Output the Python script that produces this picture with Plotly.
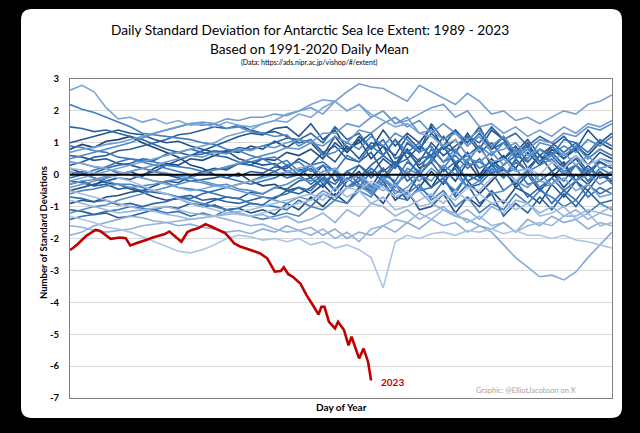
import plotly.graph_objects as go

# ---------------- data ----------------
days = [1 + 8 * i for i in range(46)]  # day-of-year sample points

y1989 = [0.8, 0.95, 0.85, 1.05, 1.1, 1.2, 1.0, 0.85, 0.7, 0.55, 0.3, 0.2, 0.0, -0.1, 0.05, -0.2, -0.35, -0.3, -0.5, -0.4, -0.6, -0.3, -0.7, -0.2, 0.1, -0.4, 0.2, -0.3, -0.8, -0.4, 0.1, -0.3, 0.3, -0.2, -0.6, -0.2, 0.2, -0.4, 0.0, -0.5, -0.1, 0.3, -0.2, 0.1, 0.4, 0.2]
y1990 = [-0.3, -0.2, -0.35, -0.1, 0.0, 0.1, -0.05, 0.2, 0.35, 0.3, 0.5, 0.45, 0.6, 0.75, 0.7, 0.9, 0.8, 1.05, 0.85, 1.1, 1.0, 0.6, 1.2, 0.7, 1.1, 0.5, 0.9, 0.3, 0.8, 0.2, 0.4, 0.9, 0.3, 0.7, 0.0, 0.5, 0.1, -0.3, 0.2, -0.2, 0.1, -0.4, 0.0, -0.3, 0.1, -0.2]
y1991 = [0.2, 0.05, -0.1, -0.25, -0.3, -0.45, -0.55, -0.7, -0.8, -0.75, -0.9, -1.0, -0.95, -1.1, -1.05, -1.2, -1.1, -1.25, -0.9, -1.1, -0.7, -1.0, -0.6, -0.9, -0.4, -0.5, -0.9, -0.3, -0.6, 0.0, -0.4, 0.2, -0.2, 0.4, -0.1, 0.3, 0.6, 0.2, 0.7, 0.3, 0.8, 0.5, 0.9, 0.6, 1.0, 0.8]
y1992 = [-0.9, -0.8, -0.85, -0.7, -0.65, -0.55, -0.5, -0.35, -0.2, -0.25, -0.05, 0.1, 0.2, 0.15, 0.35, 0.3, 0.5, 0.45, 0.7, 0.6, 0.8, 0.5, 1.0, 0.7, 1.2, 0.8, 1.4, 0.9, 1.3, 1.0, 1.5, 0.8, 1.1, 0.6, 0.9, 0.3, 0.5, 0.8, 0.2, 0.6, 0.1, 0.4, -0.2, 0.3, -0.1, 0.0]
y1993 = [1.0, 1.1, 1.2, 1.3, 1.4, 1.3, 1.25, 1.1, 1.0, 1.05, 0.9, 0.8, 0.7, 0.75, 0.5, 0.4, 0.3, 0.35, 0.1, 0.2, -0.1, 0.3, -0.2, 0.1, -0.3, -0.6, -0.2, -0.8, -0.5, -1.1, -1.0, -0.6, -1.2, -0.7, -1.0, -0.5, -0.9, -0.4, -0.6, -0.9, -0.3, -0.7, -0.2, -0.5, 0.0, -0.2]
y1994 = [-0.5, -0.4, -0.3, -0.2, -0.1, -0.15, 0.0, 0.1, 0.3, 0.45, 0.6, 0.75, 0.9, 1.05, 1.2, 1.3, 1.25, 1.45, 1.5, 1.2, 1.6, 1.1, 1.4, 0.8, 1.0, 1.3, 0.6, 1.1, 0.5, 0.9, 0.6, 1.2, 0.7, 1.3, 0.8, 1.4, 1.1, 0.6, 1.0, 0.4, 0.9, 0.5, 0.8, 0.3, 0.7, 0.5]
y1995 = [0.6, 0.55, 0.45, 0.5, 0.35, 0.3, 0.2, 0.1, 0.0, -0.1, -0.2, -0.15, -0.1, 0.0, -0.05, 0.1, 0.05, 0.25, 0.2, 0.5, 0.3, 0.7, 0.4, 0.9, 0.5, 1.0, 0.9, 0.6, 1.2, 0.8, 1.3, 0.9, 1.4, 1.0, 1.5, 0.8, 1.2, 0.7, 1.1, 0.6, 0.9, 1.2, 0.8, 1.4, 1.0, 1.3]
y1996 = [-1.1, -1.15, -1.25, -1.2, -1.35, -1.3, -1.2, -1.1, -1.0, -1.05, -0.9, -0.95, -0.8, -0.7, -0.75, -0.55, -0.6, -0.4, -0.45, -0.2, -0.1, -0.4, 0.1, -0.2, 0.3, 0.0, 0.5, 0.2, 0.8, 0.4, 1.0, 0.6, 0.9, 1.2, 0.7, 1.0, 0.5, 0.9, 0.4, 0.8, 0.6, 0.2, 0.5, 0.0, 0.4, 0.2]
y1997 = [0.3, 0.4, 0.55, 0.6, 0.75, 0.8, 0.9, 1.0, 1.1, 1.25, 1.3, 1.4, 1.5, 1.45, 1.55, 1.4, 1.3, 1.35, 1.2, 1.0, 1.1, 0.7, 0.9, 0.5, 0.4, 0.7, 0.1, 0.4, -0.2, 0.1, -0.4, -0.1, -0.7, -0.3, -0.9, -0.6, -1.3, -0.9, -1.2, -0.7, -1.1, -0.6, -1.0, -0.5, -0.9, -0.8]
y1998 = [-0.2, -0.25, -0.35, -0.3, -0.45, -0.4, -0.5, -0.55, -0.6, -0.7, -0.65, -0.8, -0.75, -0.85, -0.9, -0.8, -0.7, -0.75, -0.5, -0.6, -0.4, -0.1, -0.5, 0.1, -0.1, 0.3, 0.6, 0.3, 1.0, 0.7, 1.6, 1.1, 1.4, 0.9, 1.3, 0.8, 1.0, 0.6, 0.9, 0.4, 0.7, 0.3, 0.6, 0.1, 0.4, 0.2]
y1999 = [1.5, 1.45, 1.35, 1.4, 1.3, 1.2, 1.1, 0.95, 0.8, 0.7, 0.6, 0.65, 0.75, 0.7, 0.85, 0.8, 0.9, 1.0, 1.15, 1.1, 1.3, 1.0, 1.5, 1.1, 1.3, 0.8, 1.1, 0.5, 0.7, 0.3, 0.6, 0.1, 0.4, -0.2, 0.0, 0.3, -0.1, 0.5, 0.1, 0.6, 0.4, 0.0, 0.3, -0.2, 0.1, -0.3]
y2000 = [-0.7, -0.75, -0.85, -0.8, -0.95, -0.9, -1.0, -0.9, -0.85, -0.7, -0.75, -0.6, -0.5, -0.4, -0.3, -0.2, -0.05, 0.1, 0.3, 0.0, 0.2, -0.3, 0.1, -0.4, -0.2, 0.2, -0.1, 0.4, 0.0, 0.5, 0.6, 0.9, 0.7, 1.2, 1.0, 1.5, 1.1, 1.3, 0.9, 1.2, 1.0, 0.7, 1.0, 0.5, 0.8, 0.6]
y2001 = [0.0, 0.1, 0.05, 0.2, 0.3, 0.35, 0.5, 0.45, 0.65, 0.7, 0.8, 0.7, 0.6, 0.55, 0.4, 0.3, 0.2, 0.1, -0.1, 0.0, -0.3, 0.0, -0.5, -0.1, -0.4, 0.1, -0.2, 0.3, 0.5, 0.0, 0.4, -0.1, 0.2, -0.4, -0.3, 0.1, -0.5, -0.2, -0.7, -0.4, -0.9, -0.5, -0.8, -0.3, -0.6, -0.4]
y2002 = [-1.4, -1.3, -1.25, -1.15, -1.1, -1.0, -1.05, -1.1, -1.2, -1.15, -1.3, -1.2, -1.3, -1.1, -1.05, -0.9, -0.95, -0.7, -0.6, -0.4, -0.5, -0.1, -0.3, 0.1, 0.3, -0.1, 0.2, -0.3, 0.0, -0.5, -0.4, -0.1, -0.6, 0.0, -0.2, 0.3, 0.2, -0.2, 0.1, -0.4, -0.1, -0.5, -0.2, -0.7, -0.4, -0.6]
y2003 = [0.4, 0.35, 0.25, 0.2, 0.05, 0.0, -0.1, -0.2, -0.25, -0.4, -0.45, -0.5, -0.6, -0.7, -0.75, -0.9, -0.95, -1.0, -1.1, -0.8, -1.0, -0.6, -0.8, -0.4, -0.3, -0.5, 0.0, -0.2, 0.4, 0.1, 0.8, 0.4, 0.6, 0.2, 0.5, 0.0, 0.3, 0.6, 0.4, 0.8, 0.6, 1.1, 1.0, 0.7, 1.1, 0.9]
y2004 = [-0.1, 0.0, 0.15, 0.25, 0.4, 0.5, 0.45, 0.4, 0.3, 0.25, 0.2, 0.1, 0.0, -0.1, -0.2, -0.3, -0.2, -0.1, 0.1, 0.0, 0.3, 0.4, 0.1, 0.6, 0.4, 0.9, 0.6, 1.1, 0.7, 1.0, 0.5, 0.9, 0.4, 0.6, 0.2, 0.4, 0.0, 0.2, -0.3, -0.2, 0.1, -0.2, 0.3, 0.0, 0.5, 0.4]
y2005 = [0.9, 0.85, 0.75, 0.7, 0.55, 0.5, 0.4, 0.3, 0.2, 0.1, 0.0, 0.05, 0.15, 0.2, 0.35, 0.4, 0.5, 0.3, 0.45, 0.1, 0.3, -0.2, 0.0, -0.4, -0.1, -0.6, -0.3, -0.7, -0.8, -0.4, -0.7, -0.2, -0.5, 0.0, -0.2, 0.2, -0.1, 0.4, 0.1, 0.3, 0.5, 0.1, 0.3, -0.2, 0.2, 0.0]
y2006 = [2.2, 2.05, 1.95, 1.8, 1.65, 1.5, 1.3, 1.25, 1.2, 1.15, 1.1, 1.0, 0.95, 0.8, 0.75, 0.6, 0.5, 0.55, 0.3, 0.4, 0.1, 0.3, 0.1, -0.2, 0.0, -0.4, -0.1, -0.5, -0.6, -0.3, -0.8, -0.5, -1.0, -0.7, -1.2, -0.9, -1.1, -0.6, -0.9, -0.5, -0.7, -1.0, -0.8, -1.2, -0.9, -1.1]
y2007 = [-0.6, -0.5, -0.45, -0.35, -0.3, -0.3, -0.4, -0.5, -0.6, -0.7, -0.8, -0.9, -1.0, -1.1, -1.2, -1.3, -1.4, -1.3, -1.2, -1.3, -1.0, -1.1, -0.8, -0.9, -0.5, -0.7, -0.2, -0.4, 0.2, 0.0, 0.5, 0.2, 0.7, 0.4, 0.9, 0.6, 1.0, 0.5, 0.8, 0.4, 0.6, 0.9, 0.7, 1.1, 0.9, 1.2]
y2008 = [0.5, 0.6, 0.7, 0.8, 0.9, 1.0, 1.15, 1.3, 1.4, 1.5, 1.6, 1.55, 1.6, 1.45, 1.5, 1.35, 1.3, 1.2, 1.25, 0.9, 1.1, 0.6, 0.7, 1.0, 0.8, 1.2, 0.9, 1.3, 1.1, 0.7, 0.9, 0.4, 0.8, 0.3, 0.4, 0.1, 0.2, -0.2, 0.0, -0.4, -0.3, 0.1, -0.2, 0.2, -0.1, 0.1]
y2009 = [-1.2, -1.1, -1.0, -0.95, -0.8, -0.7, -0.6, -0.5, -0.4, -0.3, -0.2, -0.25, -0.35, -0.3, -0.45, -0.5, -0.6, -0.4, -0.3, -0.1, -0.2, 0.1, 0.2, -0.2, 0.0, -0.5, -0.1, -0.6, -0.4, 0.0, -0.2, 0.3, 0.0, 0.5, 0.4, 0.7, 0.3, 0.8, 0.5, 1.0, 0.9, 0.6, 0.9, 0.5, 0.8, 0.6]
y2010 = [0.1, 0.0, -0.1, -0.2, -0.3, -0.4, -0.35, -0.3, -0.2, -0.15, -0.1, 0.05, 0.15, 0.25, 0.35, 0.5, 0.6, 0.7, 0.85, 0.8, 1.0, 0.9, 1.2, 1.0, 1.4, 1.3, 1.6, 1.8, 1.5, 1.7, 1.3, 1.6, 1.3, 1.1, 1.4, 0.9, 1.2, 0.7, 0.8, 1.1, 1.0, 1.3, 1.2, 1.5, 1.4, 1.6]
y2011 = [-0.4, -0.3, -0.2, -0.1, 0.0, 0.1, 0.2, 0.1, 0.05, -0.05, -0.1, -0.2, -0.3, -0.4, -0.5, -0.6, -0.7, -0.8, -0.9, -0.7, -0.8, -0.5, -0.7, -0.4, -0.3, -0.6, -0.1, -0.4, 0.1, -0.2, 0.2, -0.1, 0.0, -0.4, -0.2, -0.6, -0.5, -0.2, -0.4, 0.0, -0.3, 0.1, -0.2, 0.0, -0.3, -0.1]
y2012 = [-0.3, -0.2, -0.15, -0.05, 0.0, 0.1, 0.2, 0.3, 0.4, 0.5, 0.6, 0.55, 0.7, 0.65, 0.8, 0.75, 0.9, 0.85, 1.0, 1.1, 1.0, 1.3, 1.3, 1.6, 1.5, 1.8, 2.0, 1.6, 1.8, 1.3, 1.4, 1.1, 1.3, 0.9, 1.2, 0.7, 0.8, 1.0, 0.6, 0.8, 0.4, 0.7, 0.3, 0.6, 0.2, 0.3]
y2013 = [0.7, 0.8, 0.85, 0.95, 1.0, 1.1, 1.2, 1.3, 1.4, 1.5, 1.6, 1.65, 1.6, 1.75, 1.7, 1.8, 1.8, 1.9, 1.85, 2.0, 2.1, 1.9, 2.3, 2.0, 2.2, 1.8, 2.0, 1.6, 1.7, 1.9, 2.1, 2.2, 1.8, 2.0, 1.5, 1.6, 1.3, 1.5, 1.2, 1.4, 1.2, 1.5, 1.3, 1.6, 1.5, 1.7]
y2014 = [-0.2, -0.1, 0.0, 0.1, 0.2, 0.3, 0.4, 0.5, 0.6, 0.7, 0.8, 0.9, 1.0, 1.2, 1.3, 1.4, 1.6, 1.7, 1.9, 2.0, 2.2, 2.35, 2.3, 2.6, 2.85, 2.75, 2.7, 2.5, 2.3, 2.8, 2.6, 2.4, 2.2, 2.55, 2.3, 1.9, 2.0, 1.7, 1.8, 1.6, 1.8, 2.0, 1.9, 2.2, 2.3, 2.5]
y2015 = [2.65, 2.8, 2.6, 2.1, 1.75, 1.8, 1.65, 1.75, 1.6, 1.7, 1.55, 1.6, 1.5, 1.65, 1.55, 1.5, 1.6, 1.7, 1.65, 1.9, 1.8, 2.1, 2.3, 2.0, 2.2, 1.9, 1.7, 1.5, 1.6, 1.3, 1.2, 0.9, 1.1, 0.6, 0.8, 0.4, 0.5, 0.1, 0.2, -0.2, -0.3, -0.1, -0.5, -0.3, -0.7, -0.6]
y2016 = [0.4, 0.35, 0.25, 0.2, 0.1, 0.0, -0.1, -0.2, -0.3, -0.4, -0.5, -0.45, -0.35, -0.4, -0.3, -0.2, -0.1, 0.0, 0.1, 0.2, 0.3, 0.0, 0.2, -0.2, 0.0, -0.3, -0.5, -0.3, -0.7, -0.5, -0.9, -1.1, -1.3, -1.4, -1.6, -1.8, -2.2, -2.6, -2.9, -3.2, -3.15, -3.3, -3.05, -2.6, -2.2, -1.8]
y2017 = [-1.9, -1.8, -1.6, -1.5, -1.4, -1.3, -1.35, -1.45, -1.5, -1.6, -1.55, -1.65, -1.7, -1.8, -1.75, -1.85, -1.7, -1.8, -1.6, -1.75, -1.65, -1.9, -1.7, -2.0, -1.8, -1.9, -1.6, -1.8, -1.5, -1.7, -1.4, -1.6, -1.5, -1.8, -1.6, -1.7, -1.5, -1.8, -1.4, -1.6, -1.3, -1.5, -1.4, -1.7, -1.5, -1.6]
y2018 = [-1.6, -1.65, -1.75, -1.8, -1.75, -1.7, -1.6, -1.55, -1.5, -1.45, -1.4, -1.35, -1.3, -1.25, -1.2, -1.3, -1.25, -1.4, -1.3, -1.5, -1.4, -1.2, -1.5, -1.1, -1.3, -0.9, -1.0, -1.3, -1.1, -1.4, -1.2, -1.0, -1.3, -1.1, -1.4, -1.0, -1.2, -0.8, -0.9, -1.2, -1.0, -1.3, -1.1, -1.4, -1.2, -1.3]
y2019 = [-0.8, -0.9, -1.0, -1.1, -1.2, -1.15, -1.1, -1.05, -1.0, -1.1, -1.2, -1.25, -1.3, -1.4, -1.5, -1.6, -1.55, -1.7, -1.8, -1.75, -1.9, -1.7, -2.0, -1.8, -2.1, -1.7, -1.6, -1.4, -1.5, -1.2, -1.4, -1.1, -1.2, -1.5, -1.3, -1.6, -1.5, -1.8, -1.6, -1.5, -1.6, -1.3, -1.3, -1.1, -1.2, -1.0]
y2020 = [-0.5, -0.6, -0.7, -0.8, -0.9, -1.0, -1.1, -1.15, -1.25, -1.3, -1.4, -1.35, -1.3, -1.2, -1.15, -1.1, -1.0, -0.9, -0.8, -0.7, -0.6, -0.8, -0.4, -0.7, -0.5, -0.9, -0.7, -1.1, -1.0, -0.8, -0.6, -0.9, -0.5, -0.8, -0.6, -0.9, -0.8, -1.1, -0.9, -1.3, -1.2, -1.0, -1.4, -1.2, -1.6, -1.5]
y2021 = [0.2, 0.15, 0.05, 0.0, -0.1, -0.2, -0.35, -0.5, -0.6, -0.75, -0.9, -1.0, -1.1, -1.2, -1.25, -1.3, -1.2, -1.1, -1.0, -0.9, -0.8, -0.6, -0.7, -0.4, -0.5, -0.2, -0.4, -0.7, -0.5, -1.0, -0.9, -0.6, -0.8, -0.4, -0.5, -0.1, 0.1, -0.2, 0.2, 0.0, 0.4, 0.2, 0.6, 0.3, 0.5, 0.3]
y2022 = [-1.3, -1.4, -1.5, -1.65, -1.7, -1.8, -1.95, -2.1, -2.25, -2.4, -2.45, -2.35, -2.2, -2.0, -1.9, -1.95, -2.05, -2.0, -2.1, -2.0, -2.2, -2.1, -2.3, -2.2, -2.35, -2.6, -3.55, -2.1, -1.9, -2.0, -1.85, -1.8, -1.9, -1.75, -1.8, -1.7, -1.85, -1.75, -1.9, -1.9, -2.0, -1.9, -2.05, -2.1, -2.2, -2.3]

years = list(range(1989, 2023))
series = [y1989, y1990, y1991, y1992, y1993, y1994, y1995, y1996, y1997, y1998,
          y1999, y2000, y2001, y2002, y2003, y2004, y2005, y2006, y2007, y2008,
          y2009, y2010, y2011, y2012, y2013, y2014, y2015, y2016, y2017, y2018,
          y2019, y2020, y2021, y2022]

days2023 = [1, 3, 6, 9, 12, 15, 18, 21, 24, 28, 31, 34, 38, 40, 41, 45, 49, 52, 56, 61,
            64, 67, 71, 75, 79, 82, 86, 91, 95, 100, 104, 107, 110, 114, 121, 127, 132,
            135, 137, 141, 143, 146, 149, 154, 158, 163, 166, 168, 170, 173, 177, 179,
            183, 186, 188, 193, 196, 199, 201]
y2023 = [-2.36, -2.30, -2.18, -2.05, -1.91, -1.82, -1.73, -1.76, -1.88, -2.01, -1.99,
         -1.97, -1.99, -2.12, -2.22, -2.15, -2.10, -2.04, -1.97, -1.91, -1.86, -1.78,
         -1.94, -2.10, -1.80, -1.73, -1.68, -1.55, -1.63, -1.73, -1.83, -1.98, -2.15,
         -2.25, -2.36, -2.46, -2.62, -2.85, -3.04, -3.02, -2.90, -3.12, -3.20, -3.41,
         -3.77, -4.14, -4.38, -4.14, -4.14, -4.61, -4.82, -4.61, -4.87, -5.35, -5.08,
         -5.76, -5.45, -5.87, -6.45]

y_ticks = [3, 2, 1, 0, -1, -2, -3, -4, -5, -6, -7]

# ---------------- layout helpers ----------------
W, H = 640, 433
ML, MR, MT, MB = 70, 28, 79, 35
PW, PH = W - ML - MR, H - MT - MB


def px(x):
    return (x - ML) / PW


def py(y):
    return (H - MB - y) / PH


def blue(t):
    dark = (30, 68, 118)
    mid = (52, 118, 188)
    light = (172, 196, 230)
    if t < 0.45:
        a, b, u = dark, mid, t / 0.45
    else:
        a, b, u = mid, light, (t - 0.45) / 0.55
    c = [round(a[k] + (b[k] - a[k]) * u) for k in range(3)]
    return f"rgb({c[0]},{c[1]},{c[2]})"


FONT = "Lato"
fig = go.Figure()

n = len(series)
for k, (yr, vals) in enumerate(zip(years, series)):
    fig.add_trace(go.Scatter(
        x=days, y=vals, mode="lines", name=str(yr),
        line=dict(color=blue(k / (n - 1)), width=1.6),
        hoverinfo="skip", showlegend=False))

fig.add_trace(go.Scatter(
    x=days2023, y=y2023, mode="lines", name="2023",
    line=dict(color="#C00000", width=2.6),
    hoverinfo="skip", showlegend=False))

# card background
x0, x1 = px(21), px(622)
yb, yt = py(418), py(9)
rx, ry = 11 / PW, 11 / PH
card = (f"M {x0+rx},{yb} L {x1-rx},{yb} Q {x1},{yb} {x1},{yb+ry} "
        f"L {x1},{yt-ry} Q {x1},{yt} {x1-rx},{yt} L {x0+rx},{yt} "
        f"Q {x0},{yt} {x0},{yt-ry} L {x0},{yb+ry} Q {x0},{yb} {x0+rx},{yb} Z")

shapes = [
    dict(type="path", xref="paper", yref="paper", path=card,
         fillcolor="white", line=dict(width=0), layer="below"),
    dict(type="line", xref="paper", yref="y", x0=0, x1=1, y0=0, y1=0,
         line=dict(color="black", width=2), layer="above"),
]

annotations = [
    dict(text="Daily Standard Deviation for Antarctic Sea Ice Extent: 1989 - 2023",
         x=px(310), y=py(30), xref="paper", yref="paper", showarrow=False,
         font=dict(family=FONT, size=13.7, color="black"), xanchor="center", yanchor="middle"),
    dict(text="Based on 1991-2020 Daily Mean",
         x=px(309), y=py(48), xref="paper", yref="paper", showarrow=False,
         font=dict(family=FONT, size=13.7, color="black"), xanchor="center", yanchor="middle"),
    dict(text="(Data: https://ads.nipr.ac.jp/vishop/#/extent)",
         x=px(309), y=py(63), xref="paper", yref="paper", showarrow=False,
         font=dict(family=FONT, size=7, color="black"), xanchor="center", yanchor="middle"),
    dict(text="<b>Number of Standard Deviations</b>", textangle=-90,
         x=px(43), y=py(233), xref="paper", yref="paper", showarrow=False,
         font=dict(family=FONT, size=9.5, color="black"), xanchor="center", yanchor="middle"),
    dict(text="<b>Day of Year</b>",
         x=px(341), y=py(407), xref="paper", yref="paper", showarrow=False,
         font=dict(family=FONT, size=10, color="black"), xanchor="center", yanchor="middle"),
    dict(text="Graphic: @ElliotJacobson on X",
         x=px(526), y=py(390), xref="paper", yref="paper", showarrow=False,
         font=dict(family=FONT, size=7.5, color="#A6A6A6"), xanchor="center", yanchor="middle"),
    dict(text="<b>2023</b>", x=days2023[-1], y=y2023[-1], xref="x", yref="y",
         showarrow=False, xanchor="left", yanchor="middle", xshift=8, yshift=-2,
         font=dict(family=FONT, size=10, color="#C00000")),
]

fig.update_layout(
    width=W, height=H,
    margin=dict(l=ML, r=MR, t=MT, b=MB),
    paper_bgcolor="black", plot_bgcolor="white",
    shapes=shapes, annotations=annotations,
    font=dict(family=FONT, color="black"),
    xaxis=dict(range=[1, 361], showticklabels=False, ticks="", showgrid=False,
               zeroline=False, showline=True, mirror=True, linecolor="#808080", linewidth=1),
    yaxis=dict(range=[-7, 3], tickvals=y_ticks, ticktext=[f"<b>{v}</b>" for v in y_ticks],
               tickfont=dict(family=FONT, size=9.5, color="black"),
               showgrid=True, gridcolor="#D9D9D9", gridwidth=1, zeroline=False,
               showline=True, mirror=True, linecolor="#808080", linewidth=1,
               ticks="", ticklabelstandoff=8),
)

fig.write_html(
    "out.html",
    config={"displayModeBar": False},
    post_script="document.body.style.margin='0';document.body.style.background='black';",
)
